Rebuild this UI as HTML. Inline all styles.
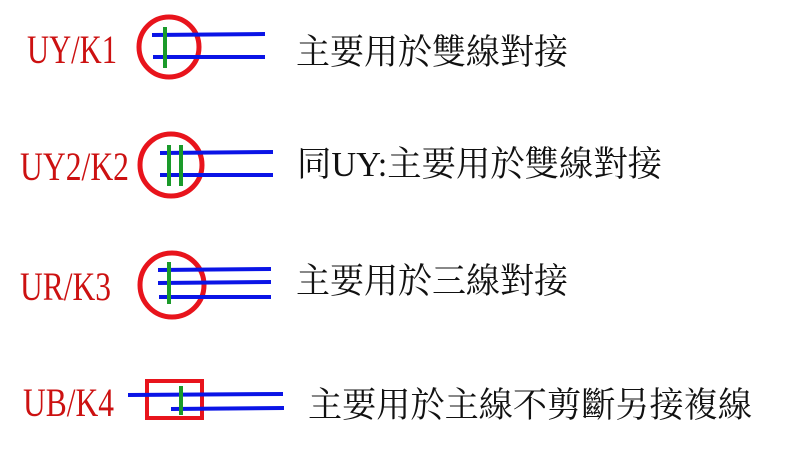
<!DOCTYPE html>
<html><head><meta charset="utf-8"><style>
html,body{margin:0;padding:0;background:#fff;}
svg{display:block;}
.l{font-family:"Liberation Serif",serif;font-size:40px;fill:#cc1111;}
.t{font-family:"Liberation Serif","Noto Serif CJK SC","Noto Sans CJK TC",serif;font-size:35px;fill:#111;}
</style></head><body>
<svg width="800" height="457" viewBox="0 0 800 457" xmlns="http://www.w3.org/2000/svg">
<rect width="800" height="457" fill="#fff"/>
<!-- Row 1 -->
<text class="l" x="27" y="63" textLength="90" lengthAdjust="spacingAndGlyphs">UY/K1</text>
<circle cx="169" cy="47" r="30" fill="none" stroke="#e8141c" stroke-width="5"/>
<g stroke="#0a14e6" stroke-width="4"><line x1="152" y1="35" x2="265" y2="34"/><line x1="153" y1="57" x2="265" y2="57"/></g>
<line x1="165" y1="27" x2="165" y2="68" stroke="#1a9a2a" stroke-width="4"/>
<text class="t" x="296" y="64" textLength="272" lengthAdjust="spacingAndGlyphs">主要用於雙線對接</text>
<!-- Row 2 -->
<text class="l" x="20" y="180" textLength="109" lengthAdjust="spacingAndGlyphs">UY2/K2</text>
<circle cx="171" cy="165" r="31" fill="none" stroke="#e8141c" stroke-width="5"/>
<g stroke="#0a14e6" stroke-width="4"><line x1="160" y1="153" x2="273" y2="152"/><line x1="160" y1="175" x2="273" y2="175"/></g>
<g stroke="#1a9a2a" stroke-width="4"><line x1="169" y1="145" x2="169" y2="186"/><line x1="181" y1="145" x2="181" y2="186"/></g>
<text class="t" x="297" y="176" textLength="365" lengthAdjust="spacingAndGlyphs">同UY:主要用於雙線對接</text>
<!-- Row 3 -->
<text class="l" x="20" y="300" textLength="91" lengthAdjust="spacingAndGlyphs">UR/K3</text>
<circle cx="172" cy="285" r="32" fill="none" stroke="#e8141c" stroke-width="5"/>
<g stroke="#0a14e6" stroke-width="4"><line x1="158" y1="270" x2="271" y2="269"/><line x1="158" y1="283" x2="271" y2="282"/><line x1="159" y1="297" x2="271" y2="297"/></g>
<line x1="169" y1="262" x2="169" y2="304" stroke="#1a9a2a" stroke-width="4"/>
<text class="t" x="296" y="293" textLength="272" lengthAdjust="spacingAndGlyphs">主要用於三線對接</text>
<!-- Row 4 -->
<text class="l" x="23" y="416" textLength="91" lengthAdjust="spacingAndGlyphs">UB/K4</text>
<rect x="147" y="381" width="55" height="37" fill="none" stroke="#e8141c" stroke-width="4"/>
<g stroke="#0a14e6" stroke-width="4"><line x1="128" y1="395" x2="283" y2="394"/><line x1="171" y1="409" x2="284" y2="408"/></g>
<line x1="181" y1="386" x2="181" y2="415" stroke="#1a9a2a" stroke-width="4"/>
<text class="t" x="308" y="417" textLength="444" lengthAdjust="spacingAndGlyphs">主要用於主線不剪斷另接複線</text>
</svg>
</body></html>
